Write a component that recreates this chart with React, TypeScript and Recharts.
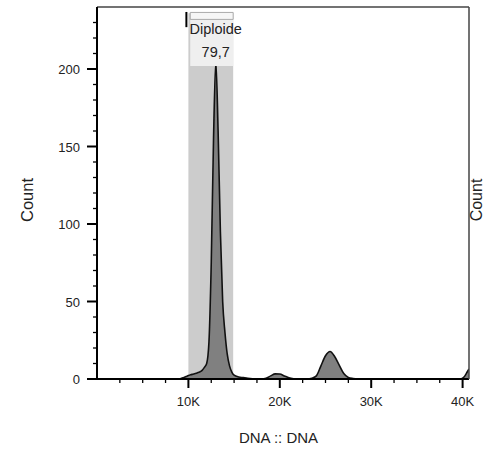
import React from 'react';
import {
  ComposedChart,
  Area,
  XAxis,
  YAxis,
  ReferenceArea,
  ReferenceLine,
  Label,
} from 'recharts';

// DNA channel values (x) and event counts (y)
const dnaValues = [
  0, 8500, 9000, 9250, 9500, 9750, 10000, 10250, 10500, 10750, 11000, 11250, 11500, 11750,
  12000, 12250, 12500, 12750, 13000, 13250, 13500, 13750, 14000, 14250, 14500, 14750, 15000,
  15500, 16000, 16500, 17000, 17500, 18000, 18500, 19000, 19500, 20000, 20500, 21000, 21500,
  22000, 23000, 23500, 24000, 24500, 25000, 25500, 26000, 26500, 27000, 27500, 28000, 28500,
  39750, 40000, 40250, 40500, 40700,
];
const counts = [
  0, 0, 0, 0.4, 1, 1.6, 2.2, 2.7, 3.1, 3.5, 4, 4.6, 5.6, 7.5,
  10, 24, 75, 155, 205, 160, 95, 50, 30, 16, 8.5, 4.5, 2.5,
  1.3, 0.9, 0.5, 0.2, 0, 0, 0.5, 2, 3.3, 3.2, 2, 0.8, 0.2,
  0, 0, 0.5, 2, 8.5, 15, 17.7, 14.5, 9, 3.5, 1, 0.3, 0,
  0, 0.5, 2, 4.5, 6.5,
];

const xTicks = [2500, 5000, 7500, 10000, 12500, 15000, 17500, 20000, 22500, 25000, 27500, 30000, 32500, 35000, 37500, 40000];
const yTicks = [0, 10, 20, 30, 40, 50, 60, 70, 80, 90, 100, 110, 120, 130, 140, 150, 160, 170, 180, 190, 200, 210, 220, 230];

// gate
const gateName = 'Diploide';
const gateValue = '79,7';
const gateFrom = 10000;
const gateTo = 14900;

const data = dnaValues.map((dna, i) => ({ dna, count: counts[i] }));

const font = '"Liberation Sans", Arial, sans-serif';

const YTick = (props: any) => {
  const { x, y, payload } = props;
  const major = payload.value % 50 === 0;
  return (
    <g>
      <line x1={x - (major ? 10 : 4)} x2={x} y1={y} y2={y} stroke="#000" strokeWidth={major ? 2 : 1.3} />
      {major && (
        <text x={x - 17} y={y + 5} textAnchor="end" fontSize={13} fill="#222" fontFamily={font}>
          {payload.value}
        </text>
      )}
    </g>
  );
};

const XTick = (props: any) => {
  const { x, y, payload } = props;
  const major = payload.value % 10000 === 0;
  return (
    <g>
      <line x1={x} x2={x} y1={y} y2={y + (major ? 9 : 4)} stroke="#000" strokeWidth={major ? 2 : 1.3} />
      {major && (
        <text x={x} y={y + 26.5} textAnchor="middle" fontSize={13} fill="#222" fontFamily={font}>
          {`${payload.value / 1000}K`}
        </text>
      )}
    </g>
  );
};

const GateLabel = (props: any) => {
  const { viewBox } = props;
  const cx = viewBox.x + viewBox.width / 2 + 4;
  return (
    <g fontFamily={font} fontSize={14.5} fill="#222" textAnchor="middle">
      <text x={cx} y={viewBox.y + 14.5}>{gateName}</text>
      <text x={cx} y={viewBox.y + 37.5}>{gateValue}</text>
    </g>
  );
};

const App = () => {
  return (
    <div style={{ position: 'absolute', left: 0, top: 0 }}>
      <ComposedChart
        width={485}
        height={449}
        data={data}
        margin={{ top: 7, right: 0, left: 0, bottom: 0 }}
      >
        <XAxis
          dataKey="dna"
          type="number"
          domain={[0, 40700]}
          allowDataOverflow
          ticks={xTicks}
          interval={0}
          tickSize={0}
          tickMargin={0}
          tickLine={false}
          tick={<XTick />}
          axisLine={{ stroke: '#000', strokeWidth: 2 }}
          height={70}
        >
          <Label
            content={(p: any) => (
              <text
                x={p.viewBox.x + p.viewBox.width / 2 - 4.5}
                y={p.viewBox.y + 63.5}
                textAnchor="middle"
                fontSize={15}
                fill="#222"
                fontFamily={font}
              >
                DNA :: DNA
              </text>
            )}
          />
        </XAxis>
        <YAxis
          type="number"
          domain={[0, 240]}
          allowDataOverflow
          ticks={yTicks}
          interval={0}
          tickSize={0}
          tickMargin={0}
          tickLine={false}
          tick={<YTick />}
          axisLine={{ stroke: '#000', strokeWidth: 2 }}
          width={97}
        >
          <Label
            content={() => (
              <text
                x={27}
                y={200}
                transform="rotate(-90, 27, 200)"
                textAnchor="middle"
                dominantBaseline="central"
                fontSize={16.5}
                fill="#222"
                fontFamily={font}
              >
                Count
              </text>
            )}
          />
        </YAxis>
        <YAxis
          yAxisId="r"
          orientation="right"
          type="number"
          domain={[0, 240]}
          width={16}
          tick={false}
          tickLine={false}
          axisLine={{ stroke: '#444', strokeWidth: 1.5 }}
        >
          <Label
            content={() => (
              <text
                x={476.5}
                y={200}
                transform="rotate(-90, 476.5, 200)"
                textAnchor="middle"
                dominantBaseline="central"
                fontSize={16}
                fill="#222"
                fontFamily={font}
              >
                Count
              </text>
            )}
          />
        </YAxis>

        {/* top frame */}
        <ReferenceLine y={240} stroke="#444" strokeWidth={1.5} />

        {/* gate band */}
        <ReferenceArea x1={gateFrom} x2={gateTo} y1={0} y2={236} fill="#cccccc" fillOpacity={1} stroke="none" zIndex={50} />

        <Area
          type="monotone"
          dataKey="count"
          stroke="#111"
          strokeWidth={1.6}
          fill="#808080"
          fillOpacity={1}
          isAnimationActive={false}
          dot={false}
          activeDot={false}
        />

        {/* gate label box */}
        <ReferenceArea
          x1={10200}
          x2={gateTo}
          y1={202}
          y2={232}
          fill="#efefef"
          fillOpacity={1}
          stroke="none"
          zIndex={150}
          label={<GateLabel />}
        />
        <ReferenceArea x1={10200} x2={gateTo} y1={232} y2={236.5} fill="#f6f6f6" fillOpacity={1} stroke="#aaa" strokeWidth={1} zIndex={150} />
        <ReferenceLine
          segment={[{ x: 9780, y: 227 }, { x: 9780, y: 236.8 }]}
          stroke="#000"
          strokeWidth={2}
          zIndex={160}
        />
      </ComposedChart>
    </div>
  );
};

export default App;
